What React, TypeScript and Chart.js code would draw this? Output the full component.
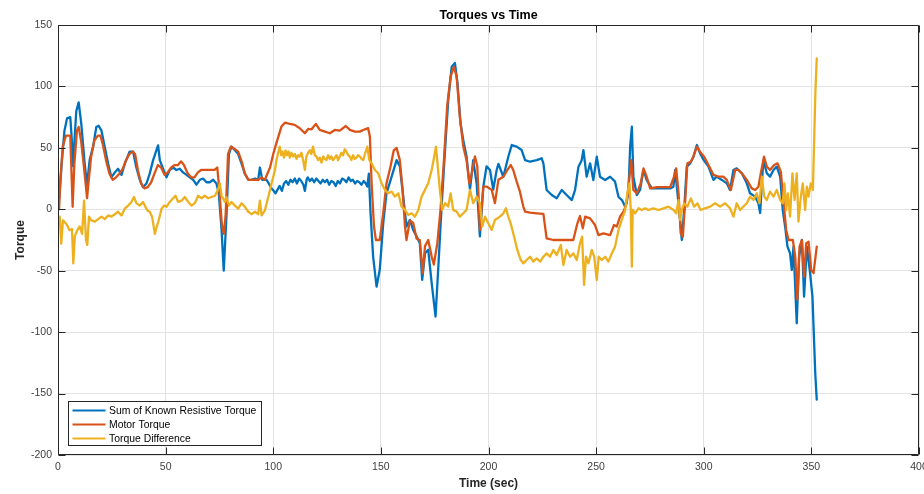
import React, { useEffect, useRef } from 'react';
import { Chart, registerables } from 'chart.js';

Chart.register(...registerables);

const chartTitle = 'Torques vs Time';
const xTitle = 'Time (sec)';
const yTitle = 'Torque';
const seriesLabels = ['Sum of Known Resistive Torque', 'Motor Torque', 'Torque Difference'];
const seriesColors = ['#0072BD', '#D95319', '#EDB120'];
const xRange = [0, 400, 50];
const yRange = [-200, 150, 50];

const resistiveTime = [0, 0.6, 1.7, 3, 4.2, 5.7, 6.3, 7, 7.8, 8.5, 9.6, 10.8, 12.4, 13.5, 14.7, 16.3, 17.8, 18.9, 20.2, 21.7, 23.3, 24.8, 26.4, 27.9, 29.5, 31, 33.3, 34.9, 36.4, 38, 39.5, 41.1, 42.6, 44.2, 45.7, 46.5, 47.3, 48.8, 50.4, 51.9, 53.5, 55, 56.6, 58.1, 59.7, 61.2, 62.8, 64.3, 65.9, 67.4, 69, 70.5, 72.1, 73.6, 74.7, 76, 77, 78.3, 79.4, 80.6, 82.2, 83.7, 85.3, 86.8, 88.4, 89.9, 91.5, 93, 93.8, 94.9, 96.9, 99.2,
  100.2, 101, 102, 103, 104, 105, 106, 107, 108, 109, 110, 111, 112, 113, 114, 114.7, 115.5, 116, 117, 118, 119, 120, 121, 122, 123, 124, 125, 126, 127, 128, 129, 130, 131, 132, 133, 134, 135, 136, 137, 138, 139, 140, 141, 142, 143, 143.7,
  144.4, 145.2, 146.4, 148, 149.5, 151.1, 152.6, 155, 157.3, 158.8, 160.4, 161.9, 163.5, 165, 166.6, 168.1, 169.2, 170.5, 172, 173.6, 175.4, 176.7, 178.2, 179.8, 181.3, 182.9, 184.4, 185.6, 187, 188.3, 189.8, 191.4, 192.9, 194.5, 196, 197.6, 199.1, 200.7, 202.2, 203.8, 204.6, 206.9, 209.2, 210.8, 213.1, 215.4, 217, 219.3, 222.4, 224.7, 225.5, 227, 229.4, 231.7, 234, 236.3, 238.7, 240.2, 241.8, 243.3, 244.1, 245.6, 247.2, 248.7, 250.3, 251.8, 254.2, 256.5, 258.8, 260.4, 262, 263.5, 265, 265.8, 266.6, 267.3, 268.9, 270.4, 272, 273.5, 275.9, 278.2, 281.3, 284.4, 285.9, 286.7, 287.8, 289, 289.8, 290.9, 292.1, 293.7, 295.2, 296.8, 298.3, 300, 302.2, 304.5, 306, 308.4, 310.7, 312.2, 313.8, 315.3, 317.7, 320, 321.5, 323.9, 325.4, 326.2, 327, 327.7, 329.3, 330.8, 332.4, 333.9, 335.5, 336.7, 337.8, 338.9, 340.1, 340.9, 341.7, 343.2, 344.3, 345.6, 346.6, 347.9, 349.4, 350.5, 351.8, 352.5];
const resistiveTorque = [8, 9, 37, 64, 74, 75, 60, 35, 60, 80, 87, 70, 37, 20, 40, 51, 67, 68, 64, 51, 37, 26, 30, 33, 28, 37, 47, 47, 34, 24, 18, 21, 29, 40, 48, 52, 40, 33, 26, 32, 34, 32, 33, 30, 28, 26, 24, 20, 24, 25, 22, 22, 24, 21, 13, -17, -50, -4, 45, 51, 48, 45, 37, 29, 24, 24, 25, 24, 34, 24, 24, 17,
  15, 13, 16, 19, 15, 21, 23, 20, 24, 22, 25, 21, 25, 23, 20, 15, 24, 26, 23, 25, 22, 25, 23, 21, 24, 22, 24, 20, 23, 22, 19, 23, 21, 25, 24, 22, 26, 23, 24, 21, 23, 22, 20, 23, 21, 18.5,
  29, -3, -38.5, -63, -49, -11, 13, 26.6, 40, 35, 10, -14, -8.6, -16.8, -22, -27.7, -57.5, -35.8, -33, -60, -87.3, -46.6, 2, 48, 89, 116, 119, 102.6, 70, 56, 43, 16, 40, 21, -22, 18.5, 35, 32, 16, 32, 37, 26.5, 42.8, 52.3, 51, 48.2, 40, 38.7, 40, 41.5, 37.4, 15.7, 11.6, 9, 15.7, 11.6, 7.5, 15.7, 34.7, 40, 48.2, 26.5, 37.4, 23.8, 42.8, 26.5, 23.8, 26.5, 22.5, 10, 7.5, 2, 13, 51, 67.2, 26.5, 11.6, 15.7, 32, 23.8, 17, 17, 17, 17, 18.4, 32, 13, -8.7, -25, -0.6, 34.7, 37.4, 42.8, 52.3, 45.5, 40, 34.7, 23.9, 26.6, 23.9, 21.1, 15.7, 32, 33.3, 29.3, 21.1, 13, 10.3, 4.9, -3, 21.1, 40, 29.3, 26.6, 32, 34.7, 26.6, -0.5, -14, -30.4, -35.8, -49.4, -30.4, -92.8, -38.5, -25, -71.1, -30.4, -52, -71.1, -133.5, -155];

const motorTime = [0, 0.5, 1.1, 2.2, 3.7, 5.7, 6.8, 7.6, 8.8, 9.6, 10.7, 11.9, 13, 13.5, 14.3, 15.4, 16.9, 18.5, 19.7, 20.8, 22.3, 23.9, 25.4, 27, 28.5, 30.1, 31.6, 33.2, 34.7, 35.8, 37.1, 38.6, 40.2, 41.7, 43.3, 44.8, 46.4, 47.9, 49.5, 51, 52.6, 54.1, 55.7, 57.2, 58.5, 60.3, 61.9, 63.4, 65, 66.5, 68.8, 71.2, 72.7, 74, 75, 76.1, 77.1, 77.9, 79, 80.3, 82.2, 83.7, 85.3, 86.8, 88.4, 90.7, 93, 94.6, 96.1, 98.5, 100, 101.5, 103.8, 105.4, 107.7, 110, 112.3, 114.7, 116.2, 117.8, 119.8, 121.6, 124, 126.3, 128.6, 130.9, 133.7, 135.6, 137.9, 140.2, 142.6, 144.1, 144.9, 145.7, 146.8, 147.7, 149.5, 151.1, 152.6, 154.5, 156, 157.3, 158.8, 160.1, 161.2, 161.9, 163.5, 165, 166.6, 168.1, 169.4, 170.5, 172, 173.6, 174.6, 176.2, 177.7, 179.3, 180.8, 182.4, 183.9, 185.2, 186.7, 188.3, 189.8, 191.1, 192.2, 193.7, 194.8, 196, 197.6, 199.1, 201.5, 203, 204.6, 206.9, 208.8, 210.3, 211.5, 213.1, 214.6, 216.2, 217, 219.3, 222.4, 225.5, 227, 230.1, 233.2, 236.3, 239.4, 241.3, 242.5, 243.8, 244.9, 247.2, 249.5, 251.1, 253.4, 256.5, 258.3, 259.6, 261.1, 262.7, 264.2, 265.5, 266.3, 267.3, 268.9, 270.7, 272, 273.5, 275.1, 278.2, 281.3, 284.4, 286.2, 287.2, 288.3, 289.3, 290.3, 291.4, 292.4, 294, 295.2, 296.8, 298.6, 300.2, 302.2, 304.5, 306.8, 309.1, 310.7, 312.6, 314.6, 316.1, 317.7, 320, 322.3, 323.9, 325.4, 326.5, 328, 329.3, 330.8, 332.7, 334.3, 335.8, 337, 338.3, 339.4, 341.4, 342.5, 343.5, 344.5, 345.6, 346.6, 347.6, 348.7, 349.9, 351, 352.5];
const motorTorque = [0, 0, 24, 51, 60, 60, 2, 37, 64, 67, 56, 37, 18, 9, 24, 43, 56, 60, 60, 53, 40, 29, 24, 26, 29, 33, 40, 45, 47, 45, 32, 21, 17, 18, 22, 29, 36, 34, 28, 30, 34, 36, 36, 39, 36, 29, 26, 26, 30, 32, 32, 32, 32, 34, 15, -12, -20, -4, 45, 51, 49, 47, 39, 29, 24, 24, 24, 26, 24, 34, 45, 54, 67.3, 70.5, 69.5, 68.7, 66, 61.9, 65.4, 65.1, 69.5, 64.6, 63.2, 61.9, 64.6, 64, 67.8, 64.6, 63.2, 63.2, 65.1, 66, 59, 21, -14, -25, -25, -3, 21, 35, 48, 50, 40, 16, -14, -25, -9, -11, -24, -25, -52, -30, -25, -38.5, -45, -28, -0.5, 40, 84, 108, 116, 108, 75, 51, 40, 21, 29, 43, 35, -17, 18.5, 18.5, 15.8, 5, 24, 26.5, 32, 36, 32, 22.5, 14.3, 2, -2, -2.8, -3.3, -3.8, -23.6, -25, -25, -25, -25, -11.4, -5.5, -15.5, -6, -7.4, -12.8, -21, -19.6, -21, -12.8, -14, -6, -2, 4.8, 26.5, 40, 15.7, 13, 21, 33.3, 26.5, 17, 18, 18, 18, 26.5, 33.3, 13, -19.6, -22.3, 7.5, 37.4, 38.7, 42.8, 51, 46, 42.8, 36, 28, 26.6, 26.6, 23.9, 15.7, 32, 32, 29.3, 23.9, 17, 15.7, 18.4, 29.3, 42.8, 34.7, 32, 36, 37.4, 30.6, 7.6, -16.8, -25, -25, -38.5, -73.8, -30.4, -25, -54.8, -27.7, -26.3, -49.4, -52, -30.4];

const diffTime = [0, 0.8, 1.5, 2.3, 3.9, 5.4, 6.5, 7.1, 7.8, 9, 10.1, 11.2, 12.1, 13, 13.6, 14.4, 15.5, 17.1, 18.6, 20.2, 21.7, 23.3, 24.8, 26.4, 27.9, 29.5, 31, 32.6, 34.1, 35.3, 36.4, 38, 39.5, 40.6, 41.6, 42.6, 43.7, 45, 45.9, 46.8, 48.1, 49.3, 50.4, 51.9, 53.5, 54.6, 55.8, 57.4, 58.9, 60.5, 62, 63.6, 65.1, 66.7, 68.2, 69.8, 71.3, 72.9, 74.1, 75.2, 76, 76.7, 77.5, 78.3, 79.4, 80.6, 82.2, 83.7, 85.3, 86.8, 88.4, 89.9, 91.5, 93, 93.8, 94.6, 96.1, 97.7, 99.2, 100.8,
  101.5, 102.3, 103, 103.7, 104.3, 105, 105.7, 106.4, 107.1, 107.7, 108.4, 109.2, 110, 110.8, 111.5, 112.3, 113.1, 113.9, 114.7, 115.4, 116.2, 117, 117.7, 118.5, 119.3, 120.1, 120.8, 121.6, 122.4, 123.2, 123.9, 124.7, 125.5, 126.3, 127, 127.8, 128.6, 129.4, 130.1, 130.9, 131.7, 132.5, 133.2, 134, 134.8, 135.6, 136.3, 137.1, 137.9, 138.7, 139.4, 140.2, 141, 141.8, 142.6, 143.7,
  144.6, 145.7, 147.2, 148.8, 150.3, 151.9, 153.4, 155, 156.5, 158.1, 159.6, 161.2, 162.7, 164.3, 165.8, 167.4, 168.9, 170.5, 172, 173.6, 174.8, 175.6, 176.3, 177.4, 178.5, 179.8, 181.3, 182.4, 183.6, 185.2, 186.7, 188.3, 189.8, 191.4, 192.9, 194.5, 196, 197.1, 198.4, 199.9, 201.5, 203, 205.3, 206.9, 208.1, 209.2, 210.3, 211.9, 213.4, 215, 216.2, 217.7, 219.3, 220.8, 222.4, 224, 225.5, 227, 228.6, 230.1, 231.7, 233.6, 234.8, 236.3, 237.9, 239.4, 241, 242.5, 243.5, 244.4, 245.3, 246.4, 248, 249.1, 250.3, 251.2, 252.6, 254.2, 255.7, 257.3, 258.8, 260.4, 261.9, 263.5, 264.5, 265.5, 266.1, 266.6, 267, 268.1, 269.7, 271.2, 272.8, 274.3, 276.6, 279, 281.3, 283.6, 285.9, 287.2, 288.3, 289, 289.8, 290.9, 292.4, 294, 295.5, 297.1, 298.6, 300.6, 303, 305.3, 307.6, 309.9, 312.2, 313.8, 315.3, 316.9, 318.4, 320, 321.5, 323.1, 324.6, 325.9, 327, 328.1, 329.3, 330.8, 332.4, 333.9, 335.5, 336.7, 337.5, 338.3, 339.1, 340.1, 341.2, 342.2, 343.2, 344, 345.1, 346, 347.1, 347.9, 348.7, 349.7, 350.7, 351.3, 351.9, 352.5];
const diffTorque = [-6, -6, -28, -9, -12, -17, -16, -44, -22, -17, -14, -20, 7, -25, -29, -6, -9, -10, -8, -6, -8, -5, -6, -4, -2, -5, 0.5, 3, 6, 10, 5, 3, 6, 2, -1, -2, -6, -20, -14, -9, 0.5, 3, 2, 6, 9, 11, 6, 7, 10, 6, 3, 5, 11, 9, 11, 9, 10, 11, 15, 21, 11, 9, 6, 10, 3, 6, 3, 0.5, 5, 2, -2, -4, -2, -4, 7, -5, -1, 10, 21, 32,
  40, 46, 51, 44, 47, 42, 48, 44, 47, 42, 46, 43, 45, 41, 44, 43, 46, 40, 32, 43, 46, 48, 45, 51, 44, 43, 40, 42, 38, 43, 41, 40, 44, 41, 43, 40, 42, 44, 40, 43, 46, 44, 49, 47, 44, 43, 40, 44, 41, 42, 44, 43, 41, 40, 45, 51,
  40.2, 37.5, 32, 29.3, 21.2, 15.8, 13, 14.4, 10.3, 13, 2.2, -0.5, -4.6, -3.2, -6, -0.5, 10.3, 15.8, 21.2, 32, 42.9, 51, 37.5, 15.8, -0.5, 5, 2.2, 13, -0.5, -1.9, -6, -3.2, -0.5, 15.8, 5, 10.3, 5, -14, -6, -11.4, -16.8, -8.7, -6, -3.3, 0.8, -6, -11.4, -22.3, -33.1, -41.3, -44, -41.3, -38.6, -42.6, -40, -42.6, -38.6, -35.9, -38.6, -33.1, -37.2, -29, -45.4, -33.1, -38.6, -35.9, -41.3, -27.7, -22.3, -61.6, -38.6, -44, -33.1, -38.6, -57.6, -38.6, -41.3, -38.6, -42.6, -35.9, -30.4, -16.9, -8.7, -0.6, 13, 21.1, -0.6, -46.7, -0.6, -3.3, 0.8, -0.6, 0.8, -0.6, 0.8, -0.6, 0.8, 2.2, -0.6, -3.3, 7.5, -8.7, -0.6, 4.8, 2.2, 8.9, 2.2, 4.8, -0.6, 0.8, 2.2, 4.9, 2.2, 4.9, 0.8, -6, 4.9, -0.6, 2.2, 4.9, 10.3, 7.6, 13, 4.9, 26.6, 10.3, 7.6, 14.4, 10.3, 15.7, 7.6, 4.9, 21.1, -0.6, 13, -6, 29.3, 7.6, 29.3, -10, 10.3, 21.1, -0.6, 18.4, 10.3, 21.1, 15.7, 56.4, 97.1, 122.9];

const toPoints = (xs: number[], ys: number[]) => xs.map((x, i) => ({ x, y: ys[i] }));

const FONT = '"Liberation Sans", Arial, Helvetica, sans-serif';
const FRAME = '#262626';

const matlabPlugin = {
  id: 'matlabFrame',
  afterDatasetsDraw(chart: any) {
    const { ctx, chartArea, scales } = chart;
    const { left, right, top, bottom } = chartArea;
    const L = Math.round(left) + 0.5;
    const R = Math.round(right) - 0.5;
    const T = Math.round(top) + 0.5;
    const B = Math.round(bottom) - 0.5;
    ctx.save();
    ctx.strokeStyle = FRAME;
    ctx.lineWidth = 1;
    ctx.beginPath();
    ctx.rect(L, T, R - L, B - T);
    ctx.stroke();
    const tl = 7;
    ctx.beginPath();
    scales.x.ticks.forEach((t: any) => {
      const px = Math.round(scales.x.getPixelForValue(t.value)) + 0.5;
      ctx.moveTo(px, B);
      ctx.lineTo(px, B - tl);
      ctx.moveTo(px, T);
      ctx.lineTo(px, T + tl);
    });
    scales.y.ticks.forEach((t: any) => {
      const py = Math.round(scales.y.getPixelForValue(t.value)) + 0.5;
      ctx.moveTo(L, py);
      ctx.lineTo(L + tl, py);
      ctx.moveTo(R, py);
      ctx.lineTo(R - tl, py);
    });
    ctx.stroke();

    ctx.fillStyle = '#000';
    ctx.font = `bold 12.5px ${FONT}`;
    ctx.textAlign = 'center';
    ctx.textBaseline = 'middle';
    ctx.fillText(chartTitle, (left + right) / 2, 16);

    ctx.font = `10.4px ${FONT}`;
    const labels = chart.data.datasets.map((d: any) => d.label);
    const maxW = Math.max(...labels.map((l: string) => ctx.measureText(l).width));
    const bx = Math.round(left + 9.5) + 0.5;
    const by = Math.round(bottom - 54.5) + 0.5;
    const bw = Math.round(40.6 + maxW + 5);
    const bh = 44;
    ctx.fillStyle = '#fff';
    ctx.fillRect(bx, by, bw, bh);
    ctx.strokeStyle = FRAME;
    ctx.lineWidth = 1;
    ctx.strokeRect(bx, by, bw, bh);
    chart.data.datasets.forEach((d: any, i: number) => {
      const cy = by + 9 + i * 14;
      ctx.strokeStyle = d.borderColor;
      ctx.lineWidth = 2;
      ctx.beginPath();
      ctx.moveTo(bx + 4, cy);
      ctx.lineTo(bx + 37, cy);
      ctx.stroke();
      ctx.fillStyle = '#000';
      ctx.textAlign = 'left';
      ctx.textBaseline = 'middle';
      ctx.fillText(d.label, bx + 40.5, cy + 0.5);
    });
    ctx.restore();
  },
};

export default function App() {
  const ref = useRef<HTMLCanvasElement>(null);
  useEffect(() => {
    if (!ref.current) return;
    const tickFont = { family: FONT, size: 10.5 };
    const titleFont = { family: FONT, size: 12, weight: 'bold' as const };
    const chart = new Chart(ref.current, {
      type: 'line',
      data: {
        datasets: [
          { label: seriesLabels[0], data: toPoints(resistiveTime, resistiveTorque), borderColor: seriesColors[0], backgroundColor: seriesColors[0], order: 3 },
          { label: seriesLabels[1], data: toPoints(motorTime, motorTorque), borderColor: seriesColors[1], backgroundColor: seriesColors[1], order: 2 },
          { label: seriesLabels[2], data: toPoints(diffTime, diffTorque), borderColor: seriesColors[2], backgroundColor: seriesColors[2], order: 1 },
        ],
      },
      options: {
        animation: false,
        responsive: false,
        layout: { padding: { top: 25, right: 5, bottom: 0, left: 0 } },
        elements: {
          point: { radius: 0, hoverRadius: 0 },
          line: { borderWidth: 2.3, tension: 0, borderJoinStyle: 'round', borderCapStyle: 'round' },
        },
        plugins: { legend: { display: false }, title: { display: false }, tooltip: { enabled: false } },
        events: [],
        scales: {
          x: {
            type: 'linear',
            min: xRange[0],
            max: xRange[1],
            ticks: { stepSize: xRange[2], padding: 6, color: '#404040', font: tickFont, maxRotation: 0 },
            grid: { color: '#e3e3e3', drawTicks: false },
            border: { display: false },
            title: { display: true, text: xTitle, color: '#262626', font: titleFont, padding: { top: 0, bottom: 3 } },
            afterFit: (s: any) => { s.height = 39; s.paddingLeft = 0; s.paddingRight = 0; },
          },
          y: {
            type: 'linear',
            min: yRange[0],
            max: yRange[1],
            ticks: { stepSize: yRange[2], padding: 6, color: '#404040', font: tickFont },
            grid: { color: '#e3e3e3', drawTicks: false },
            border: { display: false },
            title: { display: true, text: yTitle, color: '#262626', font: titleFont, padding: { top: 13, bottom: 0 } },
            afterFit: (s: any) => { s.width = 58; s.paddingTop = 0; s.paddingBottom = 0; },
          },
        },
      },
      plugins: [matlabPlugin],
    });
    return () => chart.destroy();
  }, []);
  return (
    <canvas
      ref={ref}
      width={924}
      height={494}
      style={{ position: 'absolute', left: 0, top: 0, width: 924, height: 494, display: 'block', background: '#fff' }}
    />
  );
}
